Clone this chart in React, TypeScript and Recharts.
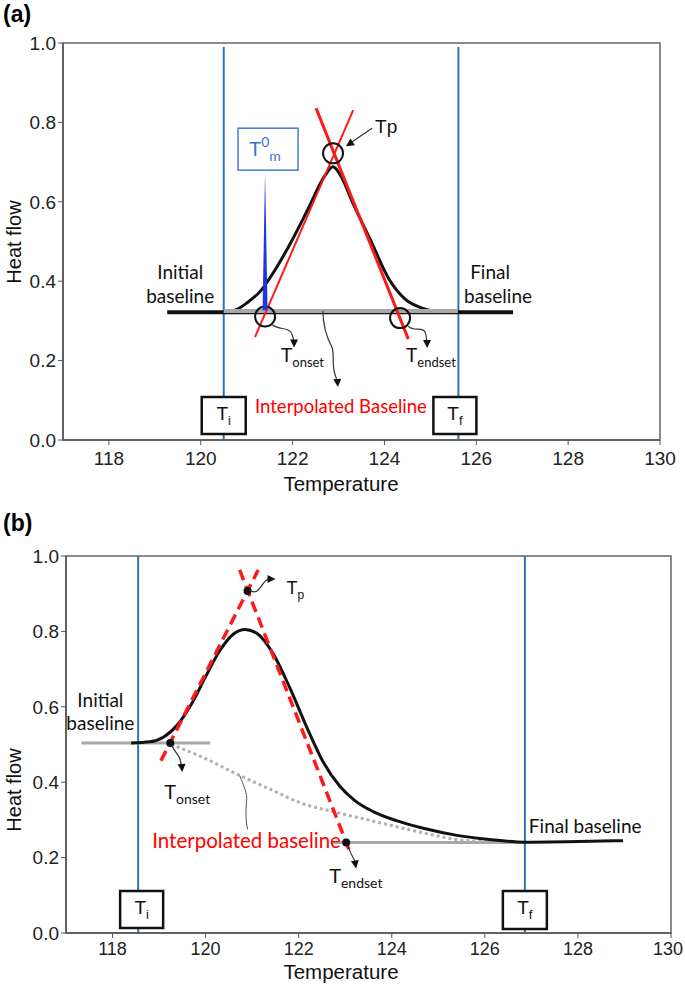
import React from "react";
import {
  ComposedChart,
  Line,
  XAxis,
  YAxis,
  ReferenceLine,
  ReferenceDot,
  ReferenceArea,
} from "recharts";

const AX = "'Liberation Sans', Arial, sans-serif";
const NOTE = "Lato, 'Open Sans', sans-serif";
const BLUE = "#2e75b6";
const RED = "#ff1a1a";
const GRAY = "#a8a8a8";

const xTicks = [118, 120, 122, 124, 126, 128, 130];
const yTicks = [0, 0.2, 0.4, 0.6, 0.8, 1.0];

// ---- panel (a) ----
const aBaseX = [119.27, 126.8];
const aBaseY = [0.322, 0.322];
const aPeakX = [120.5, 120.8, 121.0, 121.3, 121.6, 121.95, 122.35, 122.7, 122.88, 123.05, 123.3, 123.69, 124.1, 124.45, 124.8, 125.1];
const aPeakY = [0.322, 0.33, 0.345, 0.375, 0.425, 0.495, 0.585, 0.665, 0.688, 0.665, 0.6, 0.505, 0.405, 0.355, 0.333, 0.324];
const aInterpX = [120.5, 125.6];
const aInterpY = [0.325, 0.325];
const aLeftTanX = [121.18, 123.32];
const aLeftTanY = [0.259, 0.831];
const aRightTanX = [122.51, 124.52];
const aRightTanY = [0.836, 0.254];
const aTi = 120.5;
const aTf = 125.61;
const aTm = 121.4;

// ---- panel (b) ----
const bCurveX = [118.4, 118.8, 119.1, 119.4, 119.7, 120.0, 120.3, 120.6, 120.85, 121.1, 121.44, 121.8, 122.17, 122.52, 122.88, 123.2, 123.6, 124.1, 124.7, 125.4, 126.1, 126.86, 127.76, 128.97];
const bCurveY = [0.504, 0.507, 0.52, 0.553, 0.608, 0.68, 0.748, 0.793, 0.805, 0.795, 0.743, 0.653, 0.547, 0.455, 0.39, 0.352, 0.322, 0.298, 0.277, 0.259, 0.248, 0.241, 0.242, 0.245];
const bInitX = [117.33, 120.1];
const bInitY = [0.504, 0.504];
const bFinalX = [122.7, 126.86];
const bFinalY = [0.24, 0.24];
const bInterpX = [119.26, 119.9, 120.73, 121.5, 122.02, 122.74, 123.46, 124.17, 124.89, 125.39, 125.9, 126.4];
const bInterpY = [0.5, 0.468, 0.418, 0.375, 0.346, 0.322, 0.301, 0.28, 0.26, 0.248, 0.243, 0.241];
const bLeftTanX = [119.04, 121.13];
const bLeftTanY = [0.457, 0.963];
const bRightTanX = [120.73, 123.1];
const bRightTanY = [0.963, 0.215];
const bTi = 118.55;
const bTf = 126.86;
const bTp = [120.9, 0.907];
const bOnset = [119.24, 0.504];
const bEndset = [123.02, 0.24];

const pts = (xs: number[], ys: number[]) => xs.map((x, i) => ({ x, y: ys[i] }));

function Head({ x, y, angle }: { x: number; y: number; angle: number }) {
  return (
    <polygon
      points="0,0 -8,-4 -8,4"
      fill="#111"
      transform={`translate(${x},${y}) rotate(${angle})`}
    />
  );
}

function Arrow({ d, tip, angle }: { d: string; tip: [number, number]; angle: number }) {
  return (
    <g>
      <path d={d} fill="none" stroke="#333" strokeWidth={1.2} />
      <Head x={tip[0]} y={tip[1]} angle={angle} />
    </g>
  );
}

function TSub({
  x,
  y,
  sub,
  size = 19,
  subSize = 13,
  anchor = "start",
  fill = "#111",
  font = NOTE,
}: any) {
  return (
    <text x={x} y={y} fontSize={size} fontFamily={font} fill={fill} textAnchor={anchor}>
      T
      <tspan fontSize={subSize} dy={5}>
        {sub}
      </tspan>
    </text>
  );
}

function TBox({ x1, y1, x2, y2, sub }: any) {
  return (
    <g>
      <rect x={x1} y={y1} width={x2 - x1} height={y2 - y1} fill="#fff" stroke="#111" strokeWidth={2.5} />
      <TSub x={(x1 + x2) / 2} y={(y1 + y2) / 2 + 4} sub={sub} size={19} subSize={13} anchor="middle" font={AX} />
    </g>
  );
}

const note = (key: string, x: number, y: number, body: React.ReactNode) => (
  <ReferenceDot
    key={key}
    x={x}
    y={y}
    r={0}
    ifOverflow="visible"
    shape={(p: any) => <g transform={`translate(${p.cx},${p.cy})`}>{body}</g>}
  />
);

const noteText = (x: number, y: number, txt: string, anchor = "middle", fill = "#111", size = 19) => (
  <text x={x} y={y} textAnchor={anchor} fill={fill} fontSize={size} fontFamily={NOTE}>
    {txt}
  </text>
);

function XTick(props: any) {
  const { x, y, payload, dyText, size } = props;
  const cx = Math.min(x, 668);
  return (
    <text x={cx} y={y + dyText} textAnchor="middle" fill="#222" fontSize={size} fontFamily={AX}>
      {payload.value}
    </text>
  );
}

function axes(yLabelY: number, xTitleY: number, tickDy: number, tickSize: number) {
  return [
    <XAxis
      key="x"
      type="number"
      dataKey="x"
      domain={[117, 130]}
      ticks={xTicks}
      allowDataOverflow
      height={40}
      tickSize={5}
      tick={<XTick dyText={tickDy} size={tickSize} />}
      tickLine={{ stroke: "#555" }}
      axisLine={{ stroke: "#555", strokeWidth: 1.5 }}
      label={{
        content: () => (
          <text x={341} y={xTitleY} textAnchor="middle" fontSize={20.5} fontFamily={AX} fill="#111">
            Temperature
          </text>
        ),
      }}
    />,
    <YAxis
      key="y"
      type="number"
      domain={[0, 1]}
      ticks={yTicks}
      width={58}
      tickSize={5}
      tickFormatter={(v: number) => v.toFixed(1)}
      tick={{ fill: "#222", fontSize: 19, fontFamily: AX }}
      tickLine={{ stroke: "#555" }}
      axisLine={{ stroke: "#555", strokeWidth: 1.5 }}
      label={{
        content: () => (
          <text
            transform="rotate(-90)"
            x={-yLabelY}
            y={21}
            textAnchor="middle"
            fontSize={20}
            fontFamily={AX}
            fill="#111"
          >
            Heat flow
          </text>
        ),
      }}
    />,
    <ReferenceArea key="frame" x1={117} x2={130} y1={0} y2={1} fill="none" stroke="#666" strokeWidth={1.5} />,
  ];
}

function PanelA() {
  return (
    <ComposedChart width={685} height={500} margin={{ top: 43, right: 25, bottom: 20, left: 5 }}>
      {axes(242, 491, 18, 19)}
      <ReferenceLine segment={[{ x: aTi, y: 0 }, { x: aTi, y: 0.99 }]} stroke={BLUE} strokeWidth={2} />
      <ReferenceLine segment={[{ x: aTf, y: 0 }, { x: aTf, y: 0.99 }]} stroke={BLUE} strokeWidth={2} />
      <Line data={pts(aBaseX, aBaseY)} dataKey="y" type="linear" stroke="#111" strokeWidth={4} dot={false} isAnimationActive={false} />
      <Line data={pts(aPeakX, aPeakY)} dataKey="y" type="monotone" stroke="#111" strokeWidth={3} dot={false} isAnimationActive={false} />
      <Line data={pts(aInterpX, aInterpY)} dataKey="y" type="linear" stroke={GRAY} strokeWidth={4} dot={false} isAnimationActive={false} />
      <Line data={pts(aLeftTanX, aLeftTanY)} dataKey="y" type="linear" stroke={RED} strokeWidth={2} dot={false} isAnimationActive={false} />
      <Line data={pts(aRightTanX, aRightTanY)} dataKey="y" type="linear" stroke={RED} strokeWidth={3} dot={false} isAnimationActive={false} />

      <ReferenceDot x={122.88} y={0.722} r={10} fill="none" stroke="#111" strokeWidth={2} />
      <ReferenceDot x={121.4} y={0.311} r={10} fill="none" stroke="#111" strokeWidth={2} />
      <ReferenceDot x={124.34} y={0.307} r={10} fill="none" stroke="#111" strokeWidth={2} />

      {note("tm", aTm, 0.327, (
        <g>
          <polygon points="-2.5,0 2.5,0 0,-138" fill="#1f35e0" />
          <rect x={-27} y={-182} width={60} height={42} fill="#fff" stroke="#4a78d8" strokeWidth={1.5} />
          <text x={0} y={-154} textAnchor="middle" fontSize={20} fontFamily={NOTE} fill="#3d6fd6">
            T<tspan fontSize={14} dy={-9}>0</tspan>
            <tspan fontSize={14} dy={14}>m</tspan>
          </text>
        </g>
      ))}
      {note("tp", 122.88, 0.722, (
        <g>
          <Arrow d="M39,-25 L17,-10" tip={[13, -7]} angle={146} />
          <text x={42} y={-20} fontSize={19} fontFamily={AX} fill="#111">Tp</text>
        </g>
      ))}
      {note("onset", 121.4, 0.311, (
        <g>
          <Arrow d="M7,8 C14,14 22,10 26,16 C29,21 28,25 29,24" tip={[29, 31]} angle={90} />
          <TSub x={16} y={45} sub="onset" />
        </g>
      ))}
      {note("endset", 124.34, 0.307, (
        <g>
          <Arrow d="M8,8 C14,14 22,8 25,14 C27,19 26,22 27,24" tip={[27, 30]} angle={90} />
          <TSub x={6} y={44} sub="endset" />
        </g>
      ))}
      {note("interp", 122.66, 0.325, (
        <g>
          <Arrow d="M0,0 C0,15 3,25 9,36 C12,44 8,55 13,66 L14,70" tip={[15, 76]} angle={85} />
          {noteText(18, 102, "Interpolated Baseline", "middle", "#ff0000", 18.5)}
        </g>
      ))}
      {note("init", 119.27, 0.322, (
        <g>
          {noteText(13, -33, "Initial")}
          {noteText(13, -9, "baseline")}
        </g>
      ))}
      {note("final", 126.8, 0.322, (
        <g>
          {noteText(-23, -33, "Final")}
          {noteText(-15, -9, "baseline")}
        </g>
      ))}
      {note("ti", aTi, 0, <TBox x1={-22} y1={-43} x2={22} y2={-6} sub="i" />)}
      {note("tf", aTf, 0, <TBox x1={-25} y1={-43} x2={18} y2={-6} sub="f" />)}
    </ComposedChart>
  );
}

function PanelB() {
  return (
    <ComposedChart width={685} height={485} margin={{ top: 56, right: 14, bottom: 12, left: 8 }}>
      {axes(290, 479, 15, 18)}
      <ReferenceLine segment={[{ x: bTi, y: 0 }, { x: bTi, y: 1 }]} stroke={BLUE} strokeWidth={2} />
      <ReferenceLine segment={[{ x: bTf, y: 0 }, { x: bTf, y: 1 }]} stroke={BLUE} strokeWidth={2} />
      <Line data={pts(bInitX, bInitY)} dataKey="y" type="linear" stroke={GRAY} strokeWidth={3} dot={false} isAnimationActive={false} />
      <Line data={pts(bFinalX, bFinalY)} dataKey="y" type="linear" stroke={GRAY} strokeWidth={3} dot={false} isAnimationActive={false} />
      <Line data={pts(bInterpX, bInterpY)} dataKey="y" type="monotone" stroke="#b0b0b0" strokeWidth={3} strokeDasharray="3 3" dot={false} isAnimationActive={false} />
      <Line data={pts(bCurveX, bCurveY)} dataKey="y" type="monotone" stroke="#111" strokeWidth={3} dot={false} isAnimationActive={false} />
      <Line data={pts(bLeftTanX, bLeftTanY)} dataKey="y" type="linear" stroke={RED} strokeWidth={3.5} strokeDasharray="11 6" dot={false} isAnimationActive={false} />
      <Line data={pts(bRightTanX, bRightTanY)} dataKey="y" type="linear" stroke={RED} strokeWidth={3.5} strokeDasharray="11 6" dot={false} isAnimationActive={false} />

      <ReferenceDot x={bTp[0]} y={bTp[1]} r={4} fill="#111" stroke="none" />
      <ReferenceDot x={bOnset[0]} y={bOnset[1]} r={4} fill="#111" stroke="none" />
      <ReferenceDot x={bEndset[0]} y={bEndset[1]} r={4} fill="#111" stroke="none" />

      {note("tp", bTp[0], bTp[1], (
        <g>
          <Arrow d="M2,-1 C8,4 12,-2 16,-8 C19,-12 21,-12 22,-12" tip={[28, -12]} angle={0} />
          <TSub x={39} y={3} sub="p" size={18} subSize={12} font={AX} />
        </g>
      ))}
      {note("onset", bOnset[0], bOnset[1], (
        <g>
          <Arrow d="M2,3 C4,9 9,12 10,17 L11,22" tip={[12, 29]} angle={85} />
          <TSub x={-6} y={56} sub="onset" size={20} subSize={14} />
        </g>
      ))}
      {note("endset", bEndset[0], bEndset[1], (
        <g>
          <Arrow d="M2,3 C3,9 7,15 9,19" tip={[10, 26]} angle={80} />
          <TSub x={-17} y={40} sub="endset" size={20} subSize={14} />
        </g>
      ))}
      {note("interp", 120.73, 0.418, (
        <g>
          <path d="M0,0 C4,10 8,18 7,26 C6,36 6,46 8,54" fill="none" stroke="#555" strokeWidth={1} />
          {noteText(7, 73, "Interpolated baseline", "middle", "#ff0000", 20.5)}
        </g>
      ))}
      {note("init", 117.33, 0.504, (
        <g>
          {noteText(19, -36, "Initial")}
          {noteText(19, -13, "baseline")}
        </g>
      ))}
      {note("final", bTf, 0.241, noteText(4, -9, "Final baseline", "start"))}
      {note("ti", bTi, 0, <TBox x1={-18} y1={-42} x2={25} y2={-5} sub="i" />)}
      {note("tf", bTf, 0, <TBox x1={-22} y1={-42} x2={22} y2={-4} sub="f" />)}
    </ComposedChart>
  );
}

export default function App() {
  return (
    <div style={{ position: "absolute", left: 0, top: 0, width: 685, height: 985, background: "#fff" }}>
      <div style={{ position: "absolute", left: 3, top: 1, fontFamily: AX, fontWeight: 700, fontSize: 23 }}>(a)</div>
      <div style={{ position: "absolute", left: 3, top: 510, fontFamily: AX, fontWeight: 700, fontSize: 23 }}>(b)</div>
      <div style={{ position: "absolute", left: 0, top: 0 }}>
        <PanelA />
      </div>
      <div style={{ position: "absolute", left: 0, top: 500 }}>
        <PanelB />
      </div>
    </div>
  );
}
